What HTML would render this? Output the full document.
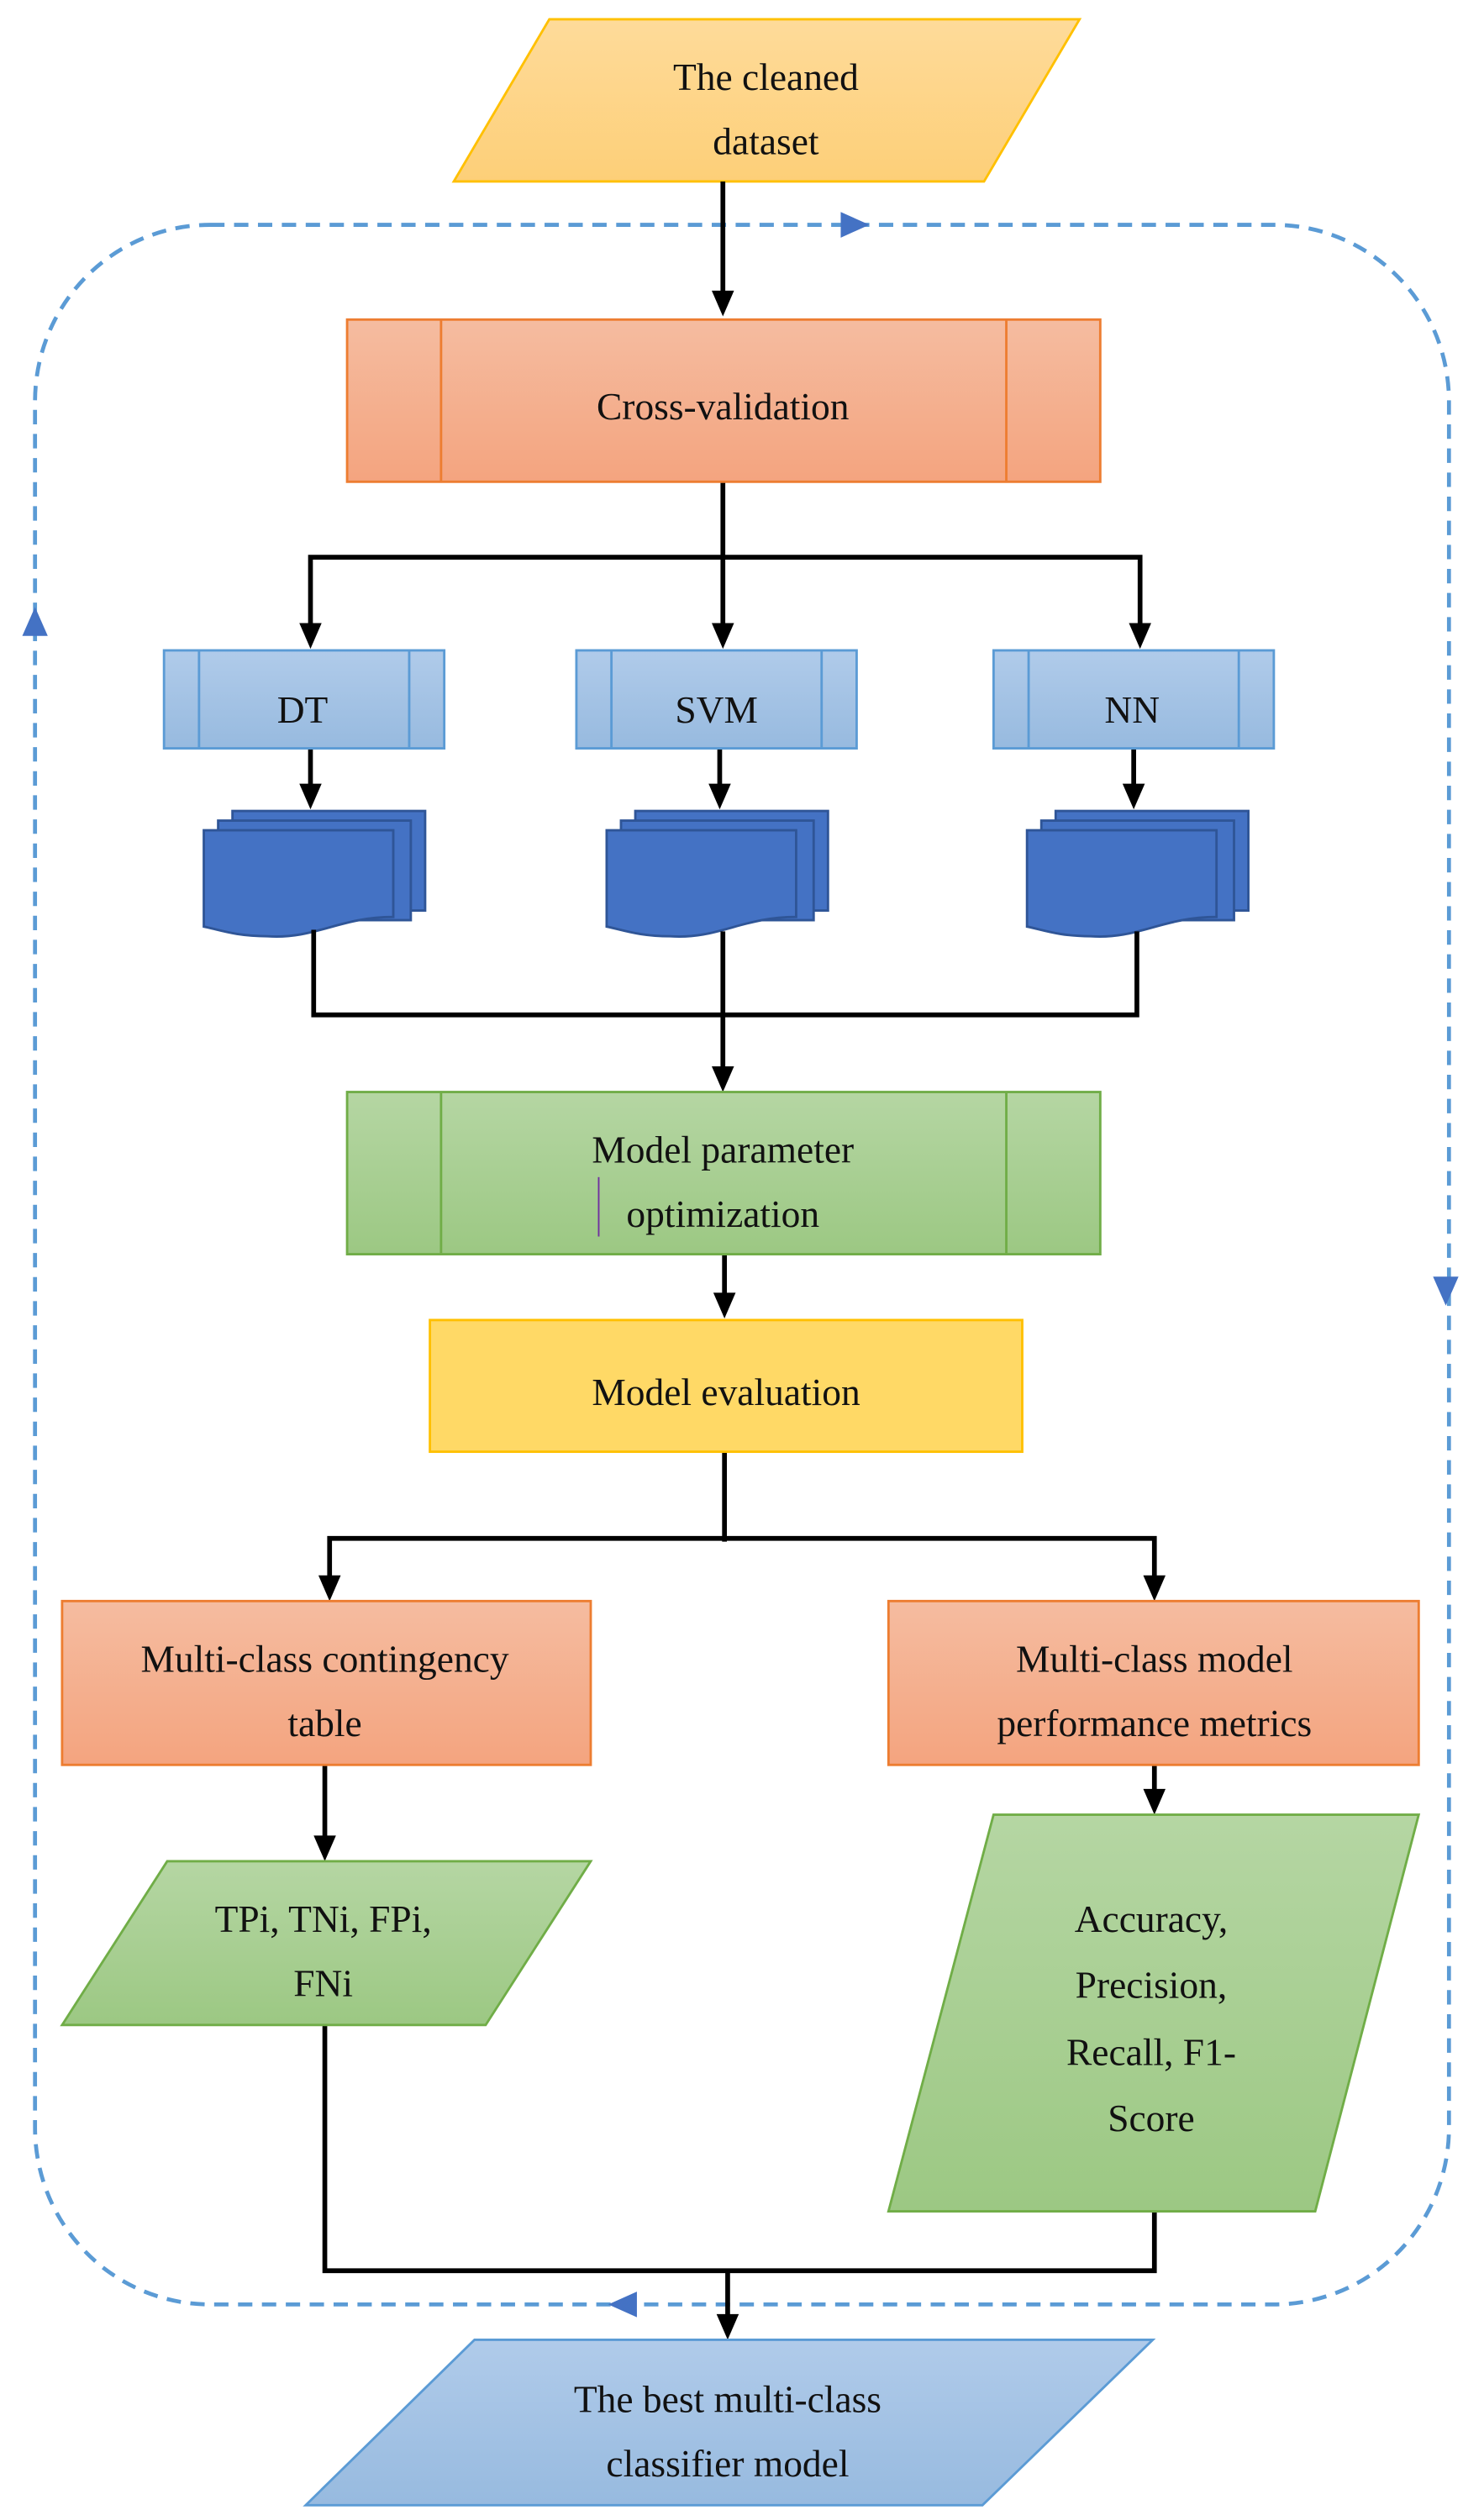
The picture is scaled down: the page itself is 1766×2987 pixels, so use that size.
<!DOCTYPE html>
<html><head><meta charset="utf-8"><style>html,body{margin:0;padding:0;background:#fff}svg{display:block}</style></head>
<body>
<svg width="1766" height="2987" viewBox="0 0 932 1563" preserveAspectRatio="none" xmlns="http://www.w3.org/2000/svg">
<defs>
<linearGradient id="gy" x1="0" y1="0" x2="0" y2="1"><stop offset="0" stop-color="#fedb9a"/><stop offset="1" stop-color="#fdcf78"/></linearGradient>
<linearGradient id="go" x1="0" y1="0" x2="0" y2="1"><stop offset="0" stop-color="#f5bca0"/><stop offset="1" stop-color="#f4a47f"/></linearGradient>
<linearGradient id="gb" x1="0" y1="0" x2="0" y2="1"><stop offset="0" stop-color="#b0cbea"/><stop offset="1" stop-color="#97badf"/></linearGradient>
<linearGradient id="gg" x1="0" y1="0" x2="0" y2="1"><stop offset="0" stop-color="#b5d6a3"/><stop offset="1" stop-color="#9cc883"/></linearGradient>
<path id="ad" d="M-7,-16L7,-16L0,0z" fill="#000"/>
</defs>
<style>text{font-family:"Liberation Serif",serif;font-size:24px;fill:#111;text-anchor:middle}</style>

<!-- dashed loop -->
<rect x="22" y="140" width="888" height="1295" rx="110" ry="110" fill="none" stroke="#5b9bd5" stroke-width="2.5" stroke-dasharray="9,6"/>
<path d="M528,132L546,140L528,148z" fill="#4472c4"/>
<path d="M14,396L22,378L30,396z" fill="#4472c4"/>
<path d="M900,795L908,813L916,795z" fill="#4472c4"/>
<path d="M400,1427L382,1435L400,1443z" fill="#4472c4"/>

<!-- top parallelogram -->
<polygon points="285,113 345,12 678,12 618,113" fill="url(#gy)" stroke="#ffc000" stroke-width="1.5"/>
<text x="481" y="56">The cleaned</text>
<text x="481" y="96">dataset</text>

<g stroke="#000" stroke-width="3" fill="none">
<line x1="454" y1="113" x2="454" y2="185"/>
<line x1="454" y1="300" x2="454" y2="392"/>
<polyline points="195,392 195,347 716,347 716,392"/>
<line x1="195" y1="466" x2="195" y2="492"/>
<line x1="452" y1="466" x2="452" y2="492"/>
<line x1="712" y1="466" x2="712" y2="492"/>
</g>
<use href="#ad" x="454" y="197"/>
<use href="#ad" x="195" y="404"/>
<use href="#ad" x="454" y="404"/>
<use href="#ad" x="716" y="404"/>
<use href="#ad" x="195" y="504"/>
<use href="#ad" x="452" y="504"/>
<use href="#ad" x="712" y="504"/>

<!-- cross validation -->
<rect x="218" y="199" width="473" height="101" fill="url(#go)" stroke="#ed7d31" stroke-width="1.5"/>
<line x1="277" y1="199" x2="277" y2="300" stroke="#ed7d31" stroke-width="1.5"/>
<line x1="632" y1="199" x2="632" y2="300" stroke="#ed7d31" stroke-width="1.5"/>
<text x="454" y="261">Cross-validation</text>

<!-- DT SVM NN -->
<g stroke="#5b9bd5" stroke-width="1.5">
<rect x="103" y="405" width="176" height="61" fill="url(#gb)"/><line x1="125" y1="405" x2="125" y2="466"/><line x1="257" y1="405" x2="257" y2="466"/>
<rect x="362" y="405" width="176" height="61" fill="url(#gb)"/><line x1="384" y1="405" x2="384" y2="466"/><line x1="516" y1="405" x2="516" y2="466"/>
<rect x="624" y="405" width="176" height="61" fill="url(#gb)"/><line x1="646" y1="405" x2="646" y2="466"/><line x1="778" y1="405" x2="778" y2="466"/>
</g>
<text x="190" y="450">DT</text>
<text x="450" y="450">SVM</text>
<text x="711" y="450">NN</text>

<!-- multidocuments -->
<g stroke="#2f5597" stroke-width="1.5" fill="#4472c4">
<g transform="translate(128,505)">
<rect x="18" y="0" width="121" height="62"/>
<rect x="9" y="6" width="121" height="62"/>
<path d="M0,12H119V66C85,66 70,80 40,78C20,78 10,74 0,72z"/>
</g>
<g transform="translate(381,505)">
<rect x="18" y="0" width="121" height="62"/>
<rect x="9" y="6" width="121" height="62"/>
<path d="M0,12H119V66C85,66 70,80 40,78C20,78 10,74 0,72z"/>
</g>
<g transform="translate(645,505)">
<rect x="18" y="0" width="121" height="62"/>
<rect x="9" y="6" width="121" height="62"/>
<path d="M0,12H119V66C85,66 70,80 40,78C20,78 10,74 0,72z"/>
</g>
</g>

<g stroke="#000" stroke-width="3" fill="none">
<polyline points="197,579 197,632 714,632 714,580"/>
<line x1="454" y1="580" x2="454" y2="668"/>
<line x1="455" y1="781" x2="455" y2="808"/>
<line x1="455" y1="904" x2="455" y2="960"/>
<polyline points="207,984 207,958 725,958 725,984"/>
<line x1="204" y1="1099" x2="204" y2="1146"/>
<line x1="725" y1="1099" x2="725" y2="1117"/>
<polyline points="204,1261 204,1414 725,1414 725,1377"/>
<line x1="457" y1="1414" x2="457" y2="1444"/>
</g>
<use href="#ad" x="454" y="680"/>
<use href="#ad" x="455" y="821"/>
<use href="#ad" x="207" y="997"/>
<use href="#ad" x="725" y="997"/>
<use href="#ad" x="204" y="1159"/>
<use href="#ad" x="725" y="1130"/>
<use href="#ad" x="457" y="1457"/>

<!-- model parameter optimization -->
<rect x="218" y="680" width="473" height="101" fill="url(#gg)" stroke="#70ad47" stroke-width="1.5"/>
<line x1="277" y1="680" x2="277" y2="781" stroke="#70ad47" stroke-width="1.5"/>
<line x1="632" y1="680" x2="632" y2="781" stroke="#70ad47" stroke-width="1.5"/>
<text x="454" y="724">Model parameter</text>
<text x="454" y="764">optimization</text>
<line x1="376" y1="733" x2="376" y2="770" stroke="#7030a0" stroke-width="1"/>

<!-- model evaluation -->
<rect x="270" y="822" width="372" height="82" fill="#ffd966" stroke="#ffc000" stroke-width="1.5"/>
<text x="456" y="875">Model evaluation</text>

<rect x="39" y="997" width="332" height="102" fill="url(#go)" stroke="#ed7d31" stroke-width="1.5"/>
<text x="204" y="1041">Multi-class contingency</text>
<text x="204" y="1081">table</text>
<rect x="558" y="997" width="333" height="102" fill="url(#go)" stroke="#ed7d31" stroke-width="1.5"/>
<text x="725" y="1041">Multi-class model</text>
<text x="725" y="1081">performance metrics</text>

<polygon points="39,1261 105,1159 371,1159 305,1261" fill="url(#gg)" stroke="#70ad47" stroke-width="1.5"/>
<text x="203" y="1203">TPi, TNi, FPi,</text>
<text x="203" y="1243">FNi</text>

<polygon points="558,1377 624,1130 891,1130 826,1377" fill="url(#gg)" stroke="#70ad47" stroke-width="1.5"/>
<text x="723" y="1203">Accuracy,</text>
<text x="723" y="1244">Precision,</text>
<text x="723" y="1286">Recall, F1-</text>
<text x="723" y="1327">Score</text>

<polygon points="192,1560 298,1457 724,1457 617,1560" fill="url(#gb)" stroke="#5b9bd5" stroke-width="1.5"/>
<text x="457" y="1502">The best multi-class</text>
<text x="457" y="1542">classifier model</text>
</svg>
</body></html>
